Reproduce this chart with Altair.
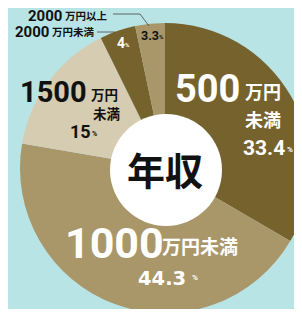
import altair as alt
import pandas as pd

# ---- data ----
amounts = ["500", "1000", "1500", "2000", "2000"]
units = ["万円未満", "万円未満", "万円未満", "万円未満", "万円以上"]
values = [33.4, 44.3, 15, 4, 3.3]
colors = ["#76622c", "#a99769", "#d5ccb1", "#76622c", "#a99769"]
center_title = "年収"

cats = [a + u for a, u in zip(amounts, units)]
pie_df = pd.DataFrame({"cat": cats, "value": values, "idx": list(range(len(cats)))})

BG = "#b9e4e6"
JP = "Noto Sans CJK JP"
NUM = "Roboto"
WHITE = "#ffffff"
BLACK = "#111111"

pie = alt.Chart(pie_df).mark_arc(radius=145).encode(
    theta=alt.Theta("value:Q", stack=True),
    order=alt.Order("idx:Q"),
    color=alt.Color("cat:N", scale=alt.Scale(domain=cats, range=colors), legend=None),
    x=alt.value(157),
    y=alt.value(160),
)

hole = alt.Chart(pd.DataFrame({"t": [center_title]})).mark_arc(
    radius=56, theta=0, theta2=6.2832, color="#ffffff"
).encode(x=alt.value(158), y=alt.value(162))


def label(text, x, y, size, color, font, align="left"):
    return alt.Chart(pd.DataFrame({"t": [text]})).mark_text(
        x=x, y=y, fontSize=size, color=color, font=font, fontWeight="bold",
        align=align, baseline="alphabetic",
    ).encode(text="t:N")


def pct(v):
    return f"{v:g}"


layers = [pie, hole]
# 500万円未満
layers += [
    label(amounts[0], 167, 94, 38, WHITE, NUM),
    label(units[0][:2], 237, 91, 18, WHITE, JP),
    label(units[0][2:], 237, 119, 18, WHITE, JP),
    label(pct(values[0]), 235, 147, 21, WHITE, NUM),
    label("%", 279, 144, 8, WHITE, NUM),
]
# 1000万円未満
layers += [
    label(amounts[1], 57, 250, 43, WHITE, NUM),
    label(units[1], 154, 246, 19, WHITE, JP),
    label(pct(values[1]), 130, 277, 19.5, WHITE, "DejaVu Sans"),
    label("%", 184, 272, 8, WHITE, NUM),
]
# 1500万円未満
layers += [
    label(amounts[2], 12, 94, 29, BLACK, NUM),
    label(units[2][:2], 83, 92, 13.5, BLACK, JP),
    label(units[2][2:], 85, 111, 13.5, BLACK, JP),
    label(pct(values[2]), 62, 130, 18, BLACK, NUM),
    label("%", 84, 128, 7, BLACK, NUM),
]
# 2000万円未満 (4%)
layers += [
    label(pct(values[3]), 109, 40, 14, WHITE, NUM),
    label("%", 117, 39, 6, WHITE, NUM),
    label(amounts[3], 7, 29, 15, BLACK, NUM),
    label(units[3], 44, 28, 10.5, BLACK, JP),
]
# 2000万円以上 (3.3%)
layers += [
    label(pct(values[4]), 133, 32, 12.5, BLACK, NUM),
    label("%", 151, 31, 6, BLACK, NUM),
    label(amounts[4], 20, 13, 15, BLACK, NUM),
    label(units[4], 57, 12, 10.5, BLACK, JP),
]
# center title
layers.append(label(center_title, 157, 177, 38, BLACK, JP, align="center"))

# leader lines
one = pd.DataFrame({"a": [0]})
rule_style = dict(color="#444444", strokeWidth=0.8)
layers += [
    alt.Chart(one).mark_rule(**rule_style).encode(
        x=alt.value(105), x2=alt.value(132), y=alt.value(6), y2=alt.value(6)),
    alt.Chart(one).mark_rule(**rule_style).encode(
        x=alt.value(132), x2=alt.value(141), y=alt.value(6), y2=alt.value(18)),
    alt.Chart(one).mark_rule(**rule_style).encode(
        x=alt.value(89), x2=alt.value(107), y=alt.value(24), y2=alt.value(24)),
]

chart = alt.layer(*layers).properties(
    width=286, height=301,
    autosize=alt.AutoSizeParams(type="none"),
    padding=0,
    background=BG,
).configure_view(stroke=None)

chart.save("out.html", embed_options={"renderer": "svg", "actions": False})
